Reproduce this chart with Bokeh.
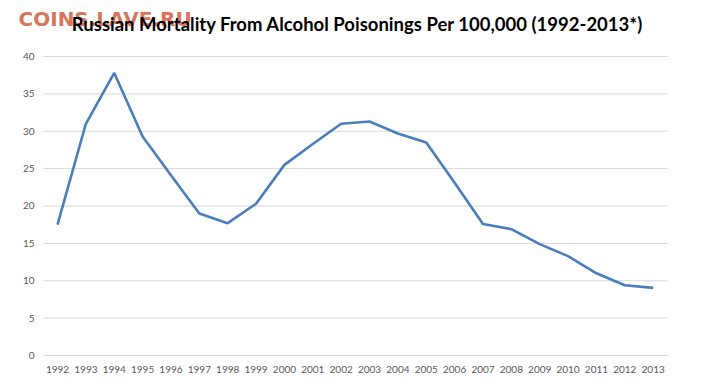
from bokeh.plotting import figure
from bokeh.models import Range1d, Label, ColumnDataSource
from bokeh.core.properties import value
from bokeh.embed import file_html
from bokeh.resources import INLINE

years = list(range(1992, 2014))
year_labels = [str(y) for y in years]
mortality = [17.5, 31.0, 37.8, 29.3, 24.1, 19.0, 17.7, 20.3, 25.5, 28.3, 31.0, 31.3,
             29.7, 28.5, 23.1, 17.6, 16.9, 14.9, 13.3, 11.0, 9.4, 9.05]
y_ticks = [0, 5, 10, 15, 20, 25, 30, 35, 40]
y_tick_labels = [str(t) for t in y_ticks]
title_text = "Russian Mortality From Alcohol Poisonings Per 100,000  (1992-2013*)"
watermark = "COINS.LAVE.RU"

p = figure(width=704, height=376, output_backend="svg", toolbar_location=None,
           x_range=Range1d(1989.99, 2014.81), y_range=Range1d(-2.809, 47.49),
           min_border_left=0, min_border_right=0, min_border_top=0, min_border_bottom=0)
p.background_fill_color = "white"
p.border_fill_color = "white"
p.outline_line_color = None
p.xaxis.visible = False
p.yaxis.visible = False
p.xgrid.grid_line_color = None
p.ygrid.grid_line_color = None

# horizontal gridlines spanning the category extent
p.segment(x0=[years[0] - 0.5] * len(y_ticks), x1=[years[-1] + 0.5] * len(y_ticks),
          y0=y_ticks, y1=y_ticks, line_color="#D9D9D9", line_width=1)

p.line(years, mortality, line_color="#4A7EBB", line_width=2.6)

# y tick labels
ysrc = ColumnDataSource(dict(x=[years[0] - 0.81] * len(y_ticks), y=y_ticks, t=y_tick_labels))
p.text(x="x", y="y", text="t", source=ysrc, text_align="right", text_baseline="middle",
       text_font=value("Lato"), text_font_size="10px", text_color="#595959")

# x tick labels
xsrc = ColumnDataSource(dict(x=years, y=[-1.87] * len(years), t=year_labels))
p.text(x="x", y="y", text="t", source=xsrc, text_align="center", text_baseline="middle",
       text_font=value("Lato"), text_font_size="10px", text_color="#595959")

wm = Label(x=1990.625, y=45.05, text=watermark, text_baseline="alphabetic",
           text_font="DejaVu Sans", text_font_style="bold", text_font_size="20px",
           text_color="#D86A50", text_alpha=0.95)
p.add_layout(wm)

ttl = Label(x=2002.665, y=44.3, text=title_text, text_align="center",
            text_baseline="alphabetic",
            text_font="Lato", text_font_style="bold", text_font_size="18.5px",
            text_color="#000000")
p.add_layout(ttl)

open("out.html", "w").write(file_html(p, INLINE))
